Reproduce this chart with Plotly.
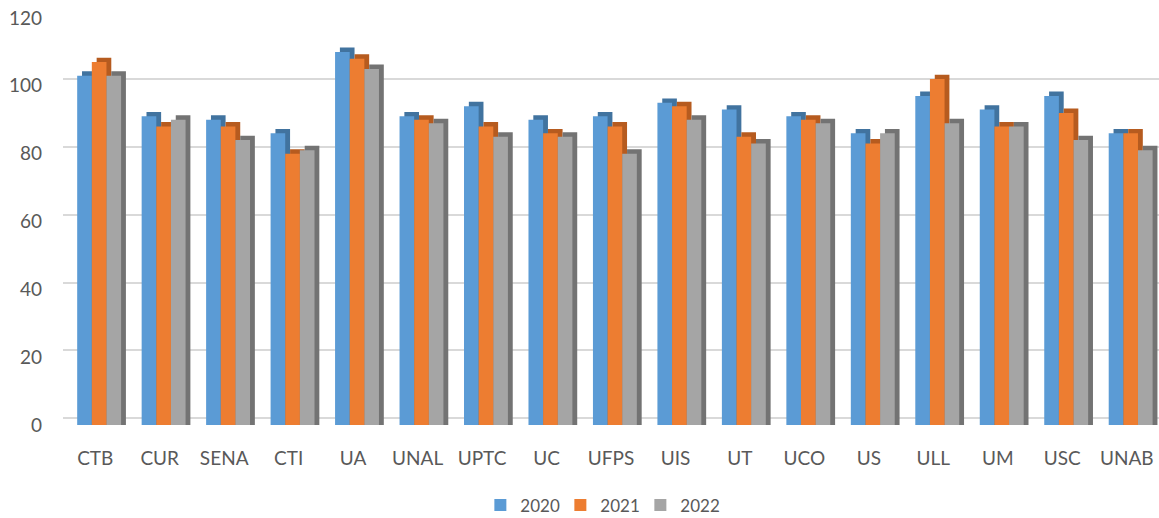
import plotly.graph_objects as go

categories = ["CTB", "CUR", "SENA", "CTI", "UA", "UNAL", "UPTC", "UC", "UFPS",
              "UIS", "UT", "UCO", "US", "ULL", "UM", "USC", "UNAB"]
v2020 = [103, 91, 90, 86, 110, 91, 94, 90, 91, 95, 93, 91, 86, 97, 93, 97, 86]
v2021 = [107, 88, 88, 80, 108, 90, 88, 86, 88, 94, 85, 90, 83, 102, 88, 92, 86]
v2022 = [103, 90, 84, 81, 105, 89, 85, 85, 80, 90, 83, 89, 86, 89, 88, 84, 81]
series_names = ["2020", "2021", "2022"]
tick_vals = [0, 20, 40, 60, 80, 100, 120]

front_colors = ["#5B9BD5", "#ED7D31", "#A5A5A5"]
depth_colors = ["#41739F", "#B65B1F", "#737373"]
bar_w = 0.227
offsets = [-0.28, -0.053, 0.174]
dx = 0.075      # depth shift (category units)
dy = 1.3        # depth rise (value units)

fig = go.Figure()
data = [v2020, v2021, v2022]

# depth (extrusion) bars first
for i, vals in enumerate(data):
    fig.add_trace(go.Bar(
        x=categories, y=[v + dy for v in vals], width=bar_w, offset=offsets[i] + dx,
        marker=dict(color=depth_colors[i], line=dict(width=0)),
        showlegend=False, hoverinfo="skip"))
# front faces
for i, vals in enumerate(data):
    fig.add_trace(go.Bar(
        x=categories, y=vals, width=bar_w, offset=offsets[i], name=series_names[i],
        marker=dict(color=front_colors[i], line=dict(width=0))))

# invisible trace to carry the back-wall gridlines
fig.add_trace(go.Scatter(x=categories, y=[None] * len(categories), yaxis="y2",
                         showlegend=False, hoverinfo="skip", mode="lines"))

font_family = "Lato, 'Open Sans', sans-serif"
fig.update_layout(
    width=1159, height=518,
    barmode="overlay",
    plot_bgcolor="white", paper_bgcolor="white",
    margin=dict(l=63, r=0, t=18, b=93),
    font=dict(family=font_family, size=19, color="#595959"),
    xaxis=dict(type="category", range=[-0.5, 16.5], showgrid=False, showline=False,
               ticks="", ticklabelstandoff=20, tickfont=dict(size=19, color="#595959")),
    yaxis=dict(range=[0, 120], tickvals=tick_vals, showgrid=False, zeroline=False,
               showline=False, ticks="", ticklabelstandoff=20,
               tickfont=dict(size=19, color="#595959")),
    yaxis2=dict(range=[-2, 118], overlaying="y", tickvals=tick_vals, showgrid=True,
                gridcolor="#D9D9D9", gridwidth=2, showticklabels=False, zeroline=False,
                showline=False),
    legend=dict(orientation="h", xref="container", yref="container",
                x=0.518, xanchor="center", y=0.024, yanchor="middle",
                font=dict(size=17, color="#595959"), itemwidth=30, traceorder="normal",
                entrywidth=35, entrywidthmode="pixels"),
)

fig.write_html("out.html", config={"displayModeBar": False},
               post_script="document.body.style.margin='0';")
